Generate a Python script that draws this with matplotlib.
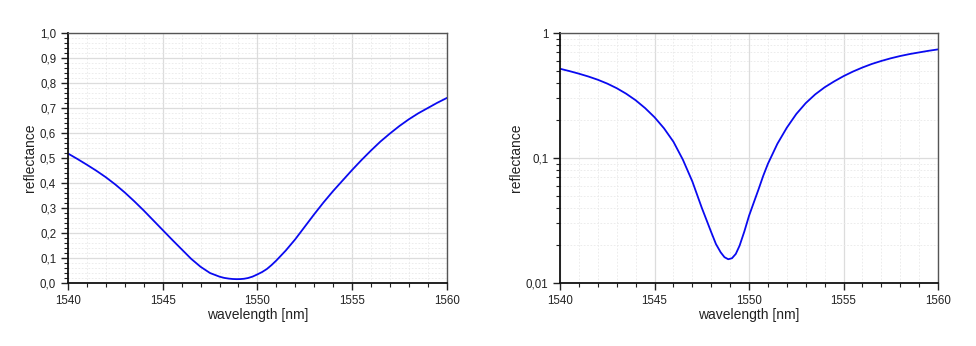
import matplotlib
matplotlib.use("Agg")
import matplotlib.pyplot as plt
from matplotlib.ticker import MultipleLocator, FixedLocator, FuncFormatter, LogLocator, NullFormatter

# reflectance spectrum
wavelength = [1540, 1540.5, 1541, 1541.5, 1542, 1542.5, 1543, 1543.5, 1544, 1544.5,
              1545, 1545.5, 1546, 1546.5, 1547, 1547.5, 1548, 1548.25, 1548.5, 1548.7,
              1548.9, 1549.1, 1549.3, 1549.5, 1549.75, 1550, 1550.25, 1550.5, 1550.75,
              1551, 1551.5, 1552, 1552.5, 1553, 1553.5, 1554, 1554.5, 1555, 1555.5,
              1556, 1556.5, 1557, 1557.5, 1558, 1558.5, 1559, 1559.5, 1560]
reflectance = [0.518, 0.496, 0.473, 0.449, 0.423, 0.394, 0.362, 0.327, 0.290, 0.251,
               0.212, 0.173, 0.135, 0.097, 0.065, 0.040, 0.0255, 0.0205, 0.0176, 0.0161,
               0.0155, 0.0158, 0.0171, 0.0199, 0.0258, 0.0345, 0.0440, 0.0560, 0.0720,
               0.090, 0.130, 0.175, 0.225, 0.275, 0.323, 0.368, 0.410, 0.452, 0.492,
               0.530, 0.566, 0.598, 0.628, 0.655, 0.679, 0.700, 0.721, 0.740]

lin_ticks = [0.0, 0.1, 0.2, 0.3, 0.4, 0.5, 0.6, 0.7, 0.8, 0.9, 1.0]
log_ticks = [0.01, 0.1, 1]
log_labels = ["0,01", "0,1", "1"]

plt.rcParams["font.family"] = ["Liberation Sans", "DejaVu Sans"]


def comma(v, pos):
    return ("%.1f" % v).replace(".", ",")


def log_label(v, pos):
    i = min(range(len(log_ticks)), key=lambda k: abs(log_ticks[k] - v))
    return log_labels[i]


def style(ax):
    ax.set_xlim(1540, 1560)
    ax.xaxis.set_major_locator(MultipleLocator(5))
    ax.xaxis.set_minor_locator(MultipleLocator(1))
    ax.tick_params(which="major", direction="out", length=5, width=1, labelsize=8.3,
                   color="#222222", labelcolor="#222222", top=False, right=False)
    ax.tick_params(which="minor", direction="out", length=3, width=0.8, color="#222222",
                   top=False, right=False)
    ax.grid(which="major", color="#dcdcdc", lw=0.9, ls="-")
    ax.grid(which="minor", color="#e9e9e9", lw=0.6, ls=(0, (2, 2)))
    ax.set_axisbelow(True)
    for s in ("left", "bottom"):
        ax.spines[s].set_color("#111111")
        ax.spines[s].set_linewidth(1.3)
    for s in ("top", "right"):
        ax.spines[s].set_color("#555555")
        ax.spines[s].set_linewidth(1.0)
    ax.set_xlabel("wavelength [nm]", fontsize=10, color="#222222", labelpad=1)
    ax.set_ylabel("reflectance", fontsize=10, color="#222222", labelpad=2)


fig = plt.figure(figsize=(9.76, 3.46), dpi=100)
ax1 = fig.add_axes([0.0697, 0.182, 0.388, 0.7225])
ax2 = fig.add_axes([0.5738, 0.182, 0.3873, 0.7225])

# linear panel
ax1.plot(wavelength, reflectance, color="#0a0af0", lw=1.3)
style(ax1)
ax1.set_ylim(0, 1)
ax1.yaxis.set_major_locator(FixedLocator(lin_ticks))
ax1.yaxis.set_minor_locator(MultipleLocator(0.02))
ax1.yaxis.set_major_formatter(FuncFormatter(comma))

# log panel
ax2.plot(wavelength, reflectance, color="#0a0af0", lw=1.3)
ax2.set_yscale("log")
style(ax2)
ax2.set_ylim(0.01, 1)
ax2.yaxis.set_major_locator(FixedLocator(log_ticks))
ax2.yaxis.set_major_formatter(FuncFormatter(log_label))
ax2.yaxis.set_minor_locator(LogLocator(base=10, subs=range(2, 10)))
ax2.yaxis.set_minor_formatter(NullFormatter())

fig.savefig("out.png", dpi=100)
